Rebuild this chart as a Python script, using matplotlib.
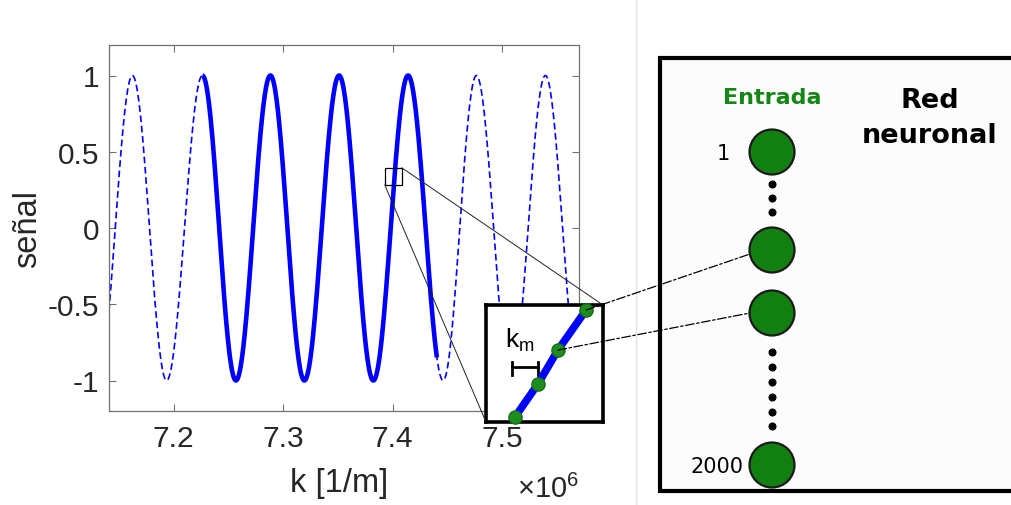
import numpy as np
import matplotlib
matplotlib.use("Agg")
import matplotlib.pyplot as plt
from matplotlib.patches import Rectangle, Circle, ConnectionPatch

# ---------------- data ----------------
# positions (x1e6 1/m) of the successive extrema of the signal and their values
extrema_k = [7.1309, 7.1623, 7.1935, 7.2262, 7.2568, 7.2883, 7.3193, 7.3510,
             7.3823, 7.4140, 7.4460, 7.4764, 7.5079, 7.5394, 7.5708]
extrema_v = [-1, 1, -1, 1, -1, 1, -1, 1, -1, 1, -1, 1, -1, 1, -1]
solid_range = (7.2262, 7.4407)          # part of the signal used as input
zoom_box_k = (7.3927, 7.4082)           # small zoom rectangle
zoom_box_v = (0.283, 0.395)

xticks = [7.2, 7.3, 7.4, 7.5]
xtick_labels = ["7.2", "7.3", "7.4", "7.5"]
yticks = [-1, -0.5, 0, 0.5, 1]
ytick_labels = ["-1", "-0.5", "0", "0.5", "1"]

# samples shown in the inset (axes fraction)
inset_dot_x = [0.248, 0.444, 0.615, 0.855]
inset_dot_y = [0.043, 0.325, 0.615, 0.957]

neuron_labels = ["1", "", "", "2000"]
neuron_y = [153, 251, 314, 466]
dots_y = [185, 199, 213, 353, 368, 383, 398, 413, 427]

# ---------------- style ----------------
plt.rcParams["font.family"] = ["Liberation Sans", "DejaVu Sans"]
plt.rcParams["axes.unicode_minus"] = False
plt.rcParams["mathtext.fontset"] = "custom"
plt.rcParams["mathtext.rm"] = "Liberation Sans"
plt.rcParams["mathtext.it"] = "Liberation Sans:italic"

W, H = 1012, 506
fig = plt.figure(figsize=(W / 100, H / 100), dpi=100)
fig.patch.set_facecolor("white")

def fx(px):
    return px / W

def fy(py):
    return 1 - py / H

# overlay axes in pixel coordinates for the network panel
ov = fig.add_axes([0, 0, 1, 1], zorder=0)
ov.set_xlim(0, W)
ov.set_ylim(H, 0)
ov.axis("off")

# main axes
ax = fig.add_axes([fx(109), fy(412), (579 - 109) / W, (412 - 46) / H], zorder=2)

# build signal curve from extrema (half-cosine between consecutive extrema)
ks, vs = [], []
for i in range(len(extrema_k) - 1):
    t = np.linspace(0, 1, 80)
    k0, k1 = extrema_k[i], extrema_k[i + 1]
    v0, v1 = extrema_v[i], extrema_v[i + 1]
    ks.append(k0 + t * (k1 - k0))
    vs.append((v0 + v1) / 2 + (v0 - v1) / 2 * np.cos(np.pi * t))
k = np.concatenate(ks)
v = np.concatenate(vs)
mask = (k >= solid_range[0]) & (k <= solid_range[1])

ax.plot(k, v, color="#0000ff", lw=1.2, ls=(0, (4, 2.2)))
ax.plot(k[mask], v[mask], color="#0000ff", lw=3.3, solid_capstyle="butt")

ax.set_xlim(7.1409, 7.5701)
ax.set_ylim(-1.2, 1.2)
ax.set_xticks(xticks)
ax.set_xticklabels(xtick_labels)
ax.set_yticks(yticks)
ax.set_yticklabels(ytick_labels)
for s in ax.spines.values():
    s.set_color("#707070")
    s.set_linewidth(0.9)
ax.tick_params(direction="in", length=5, width=0.8, top=True, right=True,
               color="#707070", labelcolor="#262626", labelsize=21.5)
ax.tick_params(axis="y", pad=7)
ax.tick_params(axis="x", pad=9.5)
ax.set_xlabel("k [1/m]", fontsize=23.5, color="#262626")
ax.set_ylabel("señal", fontsize=23.5, color="#262626")
ax.xaxis.set_label_coords(0.49, -0.153)
ax.yaxis.set_label_coords(-0.1404, 0.5)

ax.add_patch(Rectangle((zoom_box_k[0], zoom_box_v[0]),
                       zoom_box_k[1] - zoom_box_k[0], zoom_box_v[1] - zoom_box_v[0],
                       fill=False, ec="black", lw=0.9, zorder=5))

fig.text(fx(579), fy(504), r"$\times10^{6}$", ha="right", va="bottom",
         fontsize=21, color="#262626")

# inset axes
axin = fig.add_axes([fx(486), fy(423), 117 / W, 117 / H], zorder=5)
axin.set_xlim(0, 1)
axin.set_ylim(0, 1)
axin.set_xticks([])
axin.set_yticks([])
for s in axin.spines.values():
    s.set_linewidth(2.6)
    s.set_color("black")
axin.plot(inset_dot_x, inset_dot_y, color="#0000ff", lw=5.5, solid_capstyle="butt",
          zorder=3)
axin.plot(inset_dot_x, inset_dot_y, ls="none", marker="o", ms=9.5,
          mfc="#1e8c1e", mec="#157015", mew=1.0, zorder=4, clip_on=False)
axin.text(0.165, 0.645, r"$\mathrm{k_m}$", fontsize=19, ha="left", va="baseline")
axin.plot([0.222, 0.444], [0.47, 0.47], color="black", lw=2)
axin.plot([0.222, 0.222], [0.405, 0.515], color="black", lw=2)
axin.plot([0.444, 0.444], [0.405, 0.515], color="black", lw=2)

# zoom connector lines
for pa, pb in [((zoom_box_k[1], zoom_box_v[1]), (1, 1)),
               ((zoom_box_k[0], zoom_box_v[0]), (0, 0))]:
    con = ConnectionPatch(xyA=pa, coordsA=ax.transData, xyB=pb, coordsB=axin.transAxes,
                          color="#222222", lw=0.7, zorder=6)
    fig.add_artist(con)

# ---------------- network panel ----------------
ov.plot([636, 636], [0, H], color="#e4e4e4", lw=1)
ov.add_patch(Rectangle((660, 59), 420, 433, fc="#fcfcfc", ec="black", lw=3,
                       clip_on=False, zorder=1))
for yy, lab in zip(neuron_y, neuron_labels):
    ov.add_patch(Circle((772, yy), 22.5, fc="#118011", ec="#1a1a1a", lw=1.6, zorder=4))
    if lab:
        ov.text(744 if len(lab) > 1 else 730, yy + 1, lab, ha="right", va="center",
                fontsize=15, family="DejaVu Sans", color="black", zorder=5)
ov.plot([772] * len(dots_y), dots_y, ls="none", marker="o", ms=4.8, color="black",
        zorder=5)
ov.text(772, 98, "Entrada", ha="center", va="center", fontsize=16,
        family="DejaVu Sans", weight="bold", color="#138613", zorder=5)
ov.text(930, 101, "Red", ha="center", va="center", fontsize=19.5,
        family="DejaVu Sans", weight="bold", color="black", zorder=5)
ov.text(930, 136, "neuronal", ha="center", va="center", fontsize=19.5,
        family="DejaVu Sans", weight="bold", color="black", zorder=5)

# dashed lines from samples to input neurons
for i_dot, end in [(3, (750, 255)), (2, (750, 314))]:
    con = ConnectionPatch(xyA=(inset_dot_x[i_dot], inset_dot_y[i_dot]),
                          coordsA=axin.transData, xyB=end, coordsB=ov.transData,
                          color="black", lw=0.9, ls=(0, (7, 2, 2, 2)), zorder=7)
    fig.add_artist(con)

fig.savefig("out.png", dpi=100)
